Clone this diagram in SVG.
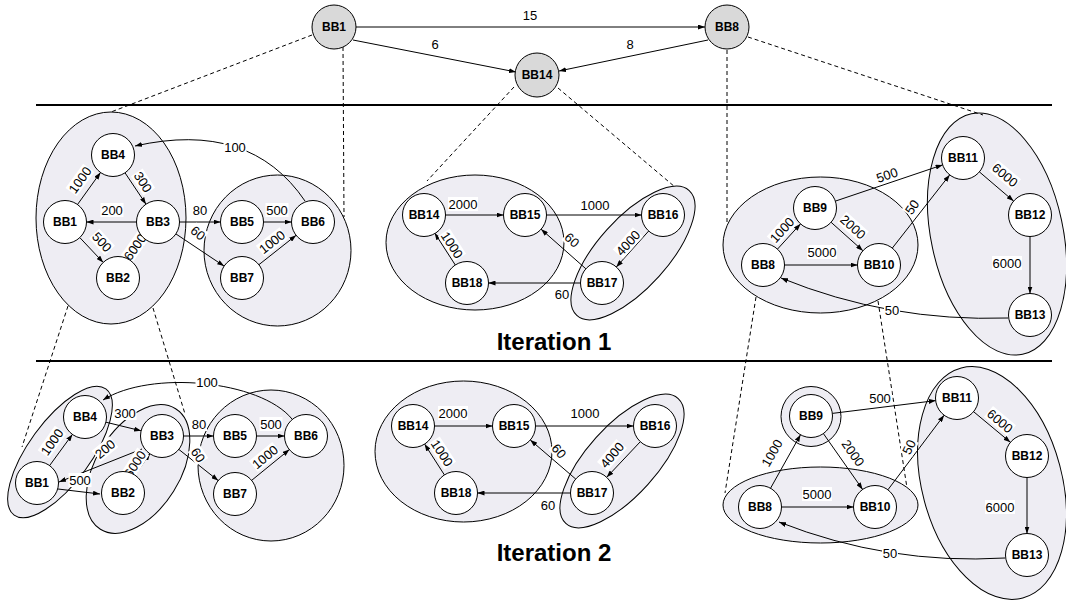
<svg xmlns="http://www.w3.org/2000/svg" xmlns:xlink="http://www.w3.org/1999/xlink" width="1066" height="606" viewBox="0 0 1066 606">
<style>
.cf{fill:#eeedf3;stroke:none}
.cs{fill:none;stroke:#000;stroke-width:1}
.n circle{fill:#fff;stroke:#000;stroke-width:1}
.t circle{fill:#d9d9d9;stroke:#000;stroke-width:1}
.n text,.t text{font-family:'Liberation Sans',Arial,sans-serif;font-size:12px;font-weight:bold;text-anchor:middle;fill:#000}
.e{fill:none;stroke:#000;stroke-width:1;marker-end:url(#ah)}
.d{fill:none;stroke:#000;stroke-width:1;stroke-dasharray:4 3}
.sep{stroke:#000;stroke-width:2.2}
.lb rect{fill:#fff}
.lb text,.tl{font-family:'Liberation Sans',Arial,sans-serif;font-size:13px;text-anchor:middle;fill:#000}
.it{font-family:'Liberation Sans',Arial,sans-serif;font-size:24px;font-weight:bold;text-anchor:middle;fill:#000}
</style>
<defs>
<marker id="ah" markerWidth="7" markerHeight="5" refX="7" refY="2.5" orient="auto" markerUnits="userSpaceOnUse"><path d="M0,0 L7,2.5 L0,5 z" fill="#000"/></marker>
<ellipse id="E1" cx="111" cy="218" rx="75" ry="106"/>
<ellipse id="E2" cx="277.5" cy="250.5" rx="73.5" ry="75.5"/>
<ellipse id="E3" cx="475" cy="242.5" rx="89" ry="67.5"/>
<ellipse id="E4" cx="0" cy="0" rx="84" ry="35" transform="translate(633 253) rotate(-48)"/>
<ellipse id="E5" cx="820.5" cy="245" rx="97.5" ry="68"/>
<ellipse id="E6" cx="0" cy="0" rx="66" ry="123" transform="translate(997 234) rotate(-12)"/>
<ellipse id="E7" cx="0" cy="0" rx="78" ry="31" transform="translate(60 452) rotate(-54)"/>
<ellipse id="E8" cx="0" cy="0" rx="71" ry="42" transform="translate(138 469) rotate(-58)"/>
<ellipse id="E9" cx="271" cy="465.5" rx="73" ry="75.5"/>
<ellipse id="E10" cx="463.5" cy="451.5" rx="88.5" ry="70.5"/>
<ellipse id="E11" cx="0" cy="0" rx="84" ry="35" transform="translate(622 461) rotate(-48)"/>
<circle id="E12" cx="811" cy="416.5" r="30"/>
<ellipse id="E13" cx="820.5" cy="505" rx="97.5" ry="38"/>
<ellipse id="E14" cx="0" cy="0" rx="70" ry="119" transform="translate(992 483) rotate(-15)"/>
</defs>
<rect width="1066" height="606" fill="#fff"/>

<g id="clusters">
<use xlink:href="#E1" class="cf"/><use xlink:href="#E2" class="cf"/><use xlink:href="#E3" class="cf"/><use xlink:href="#E4" class="cf"/><use xlink:href="#E5" class="cf"/><use xlink:href="#E6" class="cf"/><use xlink:href="#E7" class="cf"/><use xlink:href="#E8" class="cf"/><use xlink:href="#E9" class="cf"/><use xlink:href="#E10" class="cf"/><use xlink:href="#E11" class="cf"/><use xlink:href="#E12" class="cf"/><use xlink:href="#E13" class="cf"/><use xlink:href="#E14" class="cf"/>
<use xlink:href="#E1" class="cs"/><use xlink:href="#E2" class="cs"/><use xlink:href="#E3" class="cs"/><use xlink:href="#E4" class="cs"/><use xlink:href="#E5" class="cs"/><use xlink:href="#E6" class="cs"/><use xlink:href="#E7" class="cs"/><use xlink:href="#E8" class="cs"/><use xlink:href="#E9" class="cs"/><use xlink:href="#E10" class="cs"/><use xlink:href="#E11" class="cs"/><use xlink:href="#E12" class="cs"/><use xlink:href="#E13" class="cs"/><use xlink:href="#E14" class="cs"/>
</g>

<g id="separators">
<line class="sep" x1="36" y1="105" x2="1052" y2="105"/>
<line class="sep" x1="36" y1="361" x2="1052" y2="361"/>
</g>

<g id="dashed">
<path class="d" d="M312,35 L111,112"/>
<path class="d" d="M343,47 L344,217"/>
<path class="d" d="M514,87 L427,181"/>
<path class="d" d="M558,88 L675,187"/>
<path class="d" d="M727,50 L727,222"/>
<path class="d" d="M748,37 L983,115"/>
<path class="d" d="M68,306 L22,447"/>
<path class="d" d="M153,308 L185,414"/>
<path class="d" d="M756,297 L725,493"/>
<path class="d" d="M878,301 L907,488"/>
</g>

<g id="connectors">
<!-- top -->
<path class="e" d="M356,27 L705,27"/>
<path class="e" d="M353,40 L516,72"/>
<path class="e" d="M708,40 L559,71"/>
<!-- iteration 1 left -->
<path class="e" d="M77.5,204.5 L100.5,172.5"/>
<path class="e" d="M125,172.8 L146,204.2"/>
<path class="e" d="M136.5,222 L86.5,222"/>
<path class="e" d="M79.8,237.6 L103.2,262.4"/>
<path class="e" d="M130.5,260.5 L145.5,239.5"/>
<path class="e" d="M179.5,222 L220.5,222"/>
<path class="e" d="M175.9,233.9 L224.1,266.1"/>
<path class="e" d="M263.5,222 L291.5,222"/>
<path class="e" d="M258.9,264.7 L296.1,235.3"/>
<path class="e" d="M305,201 Q250,120 135,146"/>
<!-- iteration 1 middle -->
<path class="e" d="M445.5,215 L503.5,215"/>
<path class="e" d="M546.5,215 L641.5,215"/>
<path class="e" d="M648.7,231 L616.3,267"/>
<path class="e" d="M585.9,268.8 L541.1,229.2"/>
<path class="e" d="M580.5,283 L488.5,283"/>
<path class="e" d="M455.3,265 L434.7,233"/>
<!-- iteration 1 right -->
<path class="e" d="M777.5,249.1 L800.5,223.9"/>
<path class="e" d="M831.1,222.3 L862.9,250.7"/>
<path class="e" d="M835.4,201.1 L942.6,164.9"/>
<path class="e" d="M892.3,248.1 L949.7,174.9"/>
<path class="e" d="M784.5,265 L857.5,265"/>
<path class="e" d="M979.4,171.9 L1013.6,201.1"/>
<path class="e" d="M1030,236.5 L1030,293.5"/>
<path class="e" d="M1008,318 Q889,322 781,278"/>
<!-- iteration 2 left -->
<path class="e" d="M49.6,465.6 L72.4,434.4"/>
<path class="e" d="M105.9,422.2 L141.1,430.8"/>
<path class="e" d="M142,449 L59,482"/>
<path class="e" d="M58,489 L100,494"/>
<path class="e" d="M135,475.1 L150,453.6"/>
<path class="e" d="M184,436 L213.5,436"/>
<path class="e" d="M178.8,449.4 L218.2,480.6"/>
<path class="e" d="M256.5,436 L284.5,436"/>
<path class="e" d="M251.6,480.4 L289.4,449.6"/>
<path class="e" d="M292,419 C260,380 150,370 103,400"/>
<!-- iteration 2 middle -->
<path class="e" d="M434.5,426 L492.5,426"/>
<path class="e" d="M536,426 L633.5,426"/>
<path class="e" d="M640.3,441.7 L606.7,477.3"/>
<path class="e" d="M575.7,479 L530.3,440"/>
<path class="e" d="M570.5,493 L477.5,493"/>
<path class="e" d="M444.4,474.9 L424.6,444.1"/>
<!-- iteration 2 right -->
<path class="e" d="M770.5,488.3 L800.5,434.7"/>
<path class="e" d="M823.4,433.6 L862.6,489.4"/>
<path class="e" d="M832.3,413.4 L935.7,400.6"/>
<path class="e" d="M887.9,489.8 L944.1,415.2"/>
<path class="e" d="M781.5,507 L853.5,507"/>
<path class="e" d="M973.6,411.7 L1010.4,442.3"/>
<path class="e" d="M1027,477.5 L1027,533.5"/>
<path class="e" d="M1005,558 Q888,565 779,522"/>
</g>

<g id="edge-labels">
<text class="tl" x="530" y="19.5">15</text>
<text class="tl" x="435" y="48.5">6</text>
<text class="tl" x="630" y="48.5">8</text>

<g class="lb" transform="translate(80 180) rotate(-54)"><rect x="-15" y="-7" width="30" height="14"/><text y="4.6">1000</text></g>
<g class="lb" transform="translate(143 182) rotate(57)"><rect x="-11.5" y="-7" width="23" height="14"/><text y="4.6">300</text></g>
<g class="lb" transform="translate(112 210)"><rect x="-11.5" y="-7" width="23" height="14"/><text y="4.6">200</text></g>
<g class="lb" transform="translate(102 242) rotate(47)"><rect x="-11.5" y="-7" width="23" height="14"/><text y="4.6">500</text></g>
<g class="lb" transform="translate(135 247) rotate(-55)"><rect x="-15" y="-7" width="30" height="14"/><text y="4.6">6000</text></g>
<g class="lb" transform="translate(200 210)"><rect x="-8" y="-7" width="16" height="14"/><text y="4.6">80</text></g>
<g class="lb" transform="translate(198 233) rotate(40)"><rect x="-8" y="-7" width="16" height="14"/><text y="4.6">60</text></g>
<g class="lb" transform="translate(277 210)"><rect x="-11.5" y="-7" width="23" height="14"/><text y="4.6">500</text></g>
<g class="lb" transform="translate(272 242) rotate(-38)"><rect x="-15" y="-7" width="30" height="14"/><text y="4.6">1000</text></g>
<g class="lb" transform="translate(235 147)"><rect x="-11.5" y="-7" width="23" height="14"/><text y="4.6">100</text></g>

<g class="lb" transform="translate(463 204)"><rect x="-15" y="-7" width="30" height="14"/><text y="4.6">2000</text></g>
<g class="lb" transform="translate(595 205)"><rect x="-15" y="-7" width="30" height="14"/><text y="4.6">1000</text></g>
<g class="lb" transform="translate(628 243) rotate(-48)"><rect x="-15" y="-7" width="30" height="14"/><text y="4.6">4000</text></g>
<g class="lb" transform="translate(572 240) rotate(42)"><rect x="-8" y="-7" width="16" height="14"/><text y="4.6">60</text></g>
<g class="lb" transform="translate(562 294)"><rect x="-8" y="-7" width="16" height="14"/><text y="4.6">60</text></g>
<g class="lb" transform="translate(452 245) rotate(57)"><rect x="-15" y="-7" width="30" height="14"/><text y="4.6">1000</text></g>

<g class="lb" transform="translate(782 230) rotate(-48)"><rect x="-15" y="-7" width="30" height="14"/><text y="4.6">1000</text></g>
<g class="lb" transform="translate(853 227) rotate(42)"><rect x="-15" y="-7" width="30" height="14"/><text y="4.6">2000</text></g>
<g class="lb" transform="translate(887 175) rotate(-19)"><rect x="-11.5" y="-7" width="23" height="14"/><text y="4.6">500</text></g>
<g class="lb" transform="translate(912 207) rotate(-55)"><rect x="-8" y="-7" width="16" height="14"/><text y="4.6">50</text></g>
<g class="lb" transform="translate(822 252)"><rect x="-15" y="-7" width="30" height="14"/><text y="4.6">5000</text></g>
<g class="lb" transform="translate(1005 175) rotate(40)"><rect x="-15" y="-7" width="30" height="14"/><text y="4.6">6000</text></g>
<g class="lb" transform="translate(1007 263)"><rect x="-15" y="-7" width="30" height="14"/><text y="4.6">6000</text></g>
<g class="lb" transform="translate(892 310)"><rect x="-8" y="-7" width="16" height="14"/><text y="4.6">50</text></g>

<g class="lb" transform="translate(52 442) rotate(-55)"><rect x="-15" y="-7" width="30" height="14"/><text y="4.6">1000</text></g>
<g class="lb" transform="translate(125 413)"><rect x="-11.5" y="-7" width="23" height="14"/><text y="4.6">300</text></g>
<g class="lb" transform="translate(105 449) rotate(-40)"><rect x="-11.5" y="-7" width="23" height="14"/><text y="4.6">200</text></g>
<g class="lb" transform="translate(80 480)"><rect x="-11.5" y="-7" width="23" height="14"/><text y="4.6">500</text></g>
<g class="lb" transform="translate(135 464) rotate(-57)"><rect x="-15" y="-7" width="30" height="14"/><text y="4.6">6000</text></g>
<g class="lb" transform="translate(199 424)"><rect x="-8" y="-7" width="16" height="14"/><text y="4.6">80</text></g>
<g class="lb" transform="translate(198 455) rotate(57)"><rect x="-8" y="-7" width="16" height="14"/><text y="4.6">60</text></g>
<g class="lb" transform="translate(271 424)"><rect x="-11.5" y="-7" width="23" height="14"/><text y="4.6">500</text></g>
<g class="lb" transform="translate(265 457) rotate(-39)"><rect x="-15" y="-7" width="30" height="14"/><text y="4.6">1000</text></g>
<g class="lb" transform="translate(207 382)"><rect x="-11.5" y="-7" width="23" height="14"/><text y="4.6">100</text></g>

<g class="lb" transform="translate(453 413)"><rect x="-15" y="-7" width="30" height="14"/><text y="4.6">2000</text></g>
<g class="lb" transform="translate(585 413)"><rect x="-15" y="-7" width="30" height="14"/><text y="4.6">1000</text></g>
<g class="lb" transform="translate(612 455) rotate(-50)"><rect x="-15" y="-7" width="30" height="14"/><text y="4.6">4000</text></g>
<g class="lb" transform="translate(559 451) rotate(50)"><rect x="-8" y="-7" width="16" height="14"/><text y="4.6">60</text></g>
<g class="lb" transform="translate(548 505)"><rect x="-8" y="-7" width="16" height="14"/><text y="4.6">60</text></g>
<g class="lb" transform="translate(442 453) rotate(57)"><rect x="-15" y="-7" width="30" height="14"/><text y="4.6">1000</text></g>

<g class="lb" transform="translate(772 453) rotate(-60)"><rect x="-15" y="-7" width="30" height="14"/><text y="4.6">1000</text></g>
<g class="lb" transform="translate(853 453) rotate(55)"><rect x="-15" y="-7" width="30" height="14"/><text y="4.6">2000</text></g>
<g class="lb" transform="translate(880 398)"><rect x="-11.5" y="-7" width="23" height="14"/><text y="4.6">500</text></g>
<g class="lb" transform="translate(909 447) rotate(-65)"><rect x="-8" y="-7" width="16" height="14"/><text y="4.6">50</text></g>
<g class="lb" transform="translate(817 494)"><rect x="-15" y="-7" width="30" height="14"/><text y="4.6">5000</text></g>
<g class="lb" transform="translate(1000 421) rotate(40)"><rect x="-15" y="-7" width="30" height="14"/><text y="4.6">6000</text></g>
<g class="lb" transform="translate(1000 507)"><rect x="-15" y="-7" width="30" height="14"/><text y="4.6">6000</text></g>
<g class="lb" transform="translate(890 553)"><rect x="-8" y="-7" width="16" height="14"/><text y="4.6">50</text></g>
</g>

<g id="top-bb1" class="t"><circle cx="334" cy="27" r="22"/><text x="334" y="31.3">BB1</text></g>
<g id="top-bb8" class="t"><circle cx="727" cy="27" r="22"/><text x="727" y="31.3">BB8</text></g>
<g id="top-bb14" class="t"><circle cx="537" cy="75" r="22"/><text x="537" y="79.3">BB14</text></g>

<g id="i1-bb4" class="n"><circle cx="113" cy="155" r="21.5"/><text x="113" y="159.3">BB4</text></g>
<g id="i1-bb1" class="n"><circle cx="65" cy="222" r="21.5"/><text x="65" y="226.3">BB1</text></g>
<g id="i1-bb3" class="n"><circle cx="158" cy="222" r="21.5"/><text x="158" y="226.3">BB3</text></g>
<g id="i1-bb2" class="n"><circle cx="118" cy="278" r="21.5"/><text x="118" y="282.3">BB2</text></g>
<g id="i1-bb5" class="n"><circle cx="242" cy="222" r="21.5"/><text x="242" y="226.3">BB5</text></g>
<g id="i1-bb6" class="n"><circle cx="313" cy="222" r="21.5"/><text x="313" y="226.3">BB6</text></g>
<g id="i1-bb7" class="n"><circle cx="242" cy="278" r="21.5"/><text x="242" y="282.3">BB7</text></g>

<g id="i1-bb14" class="n"><circle cx="424" cy="215" r="21.5"/><text x="424" y="219.3">BB14</text></g>
<g id="i1-bb15" class="n"><circle cx="525" cy="215" r="21.5"/><text x="525" y="219.3">BB15</text></g>
<g id="i1-bb16" class="n"><circle cx="663" cy="215" r="21.5"/><text x="663" y="219.3">BB16</text></g>
<g id="i1-bb18" class="n"><circle cx="467" cy="283" r="21.5"/><text x="467" y="287.3">BB18</text></g>
<g id="i1-bb17" class="n"><circle cx="602" cy="283" r="21.5"/><text x="602" y="287.3">BB17</text></g>

<g id="i1-bb11" class="n"><circle cx="963" cy="158" r="21.5"/><text x="963" y="162.3">BB11</text></g>
<g id="i1-bb9" class="n"><circle cx="815" cy="208" r="21.5"/><text x="815" y="212.3">BB9</text></g>
<g id="i1-bb12" class="n"><circle cx="1030" cy="215" r="21.5"/><text x="1030" y="219.3">BB12</text></g>
<g id="i1-bb8" class="n"><circle cx="763" cy="265" r="21.5"/><text x="763" y="269.3">BB8</text></g>
<g id="i1-bb10" class="n"><circle cx="879" cy="265" r="21.5"/><text x="879" y="269.3">BB10</text></g>
<g id="i1-bb13" class="n"><circle cx="1030" cy="315" r="21.5"/><text x="1030" y="319.3">BB13</text></g>

<g id="i2-bb4" class="n"><circle cx="85" cy="417" r="21.5"/><text x="85" y="421.3">BB4</text></g>
<g id="i2-bb1" class="n"><circle cx="37" cy="483" r="21.5"/><text x="37" y="487.3">BB1</text></g>
<g id="i2-bb3" class="n"><circle cx="162" cy="436" r="21.5"/><text x="162" y="440.3">BB3</text></g>
<g id="i2-bb2" class="n"><circle cx="123" cy="493" r="21.5"/><text x="123" y="497.3">BB2</text></g>
<g id="i2-bb5" class="n"><circle cx="235" cy="436" r="21.5"/><text x="235" y="440.3">BB5</text></g>
<g id="i2-bb6" class="n"><circle cx="306" cy="436" r="21.5"/><text x="306" y="440.3">BB6</text></g>
<g id="i2-bb7" class="n"><circle cx="235" cy="494" r="21.5"/><text x="235" y="498.3">BB7</text></g>

<g id="i2-bb14" class="n"><circle cx="413" cy="426" r="21.5"/><text x="413" y="430.3">BB14</text></g>
<g id="i2-bb15" class="n"><circle cx="514" cy="426" r="21.5"/><text x="514" y="430.3">BB15</text></g>
<g id="i2-bb16" class="n"><circle cx="655" cy="426" r="21.5"/><text x="655" y="430.3">BB16</text></g>
<g id="i2-bb18" class="n"><circle cx="456" cy="493" r="21.5"/><text x="456" y="497.3">BB18</text></g>
<g id="i2-bb17" class="n"><circle cx="592" cy="493" r="21.5"/><text x="592" y="497.3">BB17</text></g>

<g id="i2-bb9" class="n"><circle cx="811" cy="416" r="21.5"/><text x="811" y="420.3">BB9</text></g>
<g id="i2-bb11" class="n"><circle cx="957" cy="398" r="21.5"/><text x="957" y="402.3">BB11</text></g>
<g id="i2-bb12" class="n"><circle cx="1027" cy="456" r="21.5"/><text x="1027" y="460.3">BB12</text></g>
<g id="i2-bb8" class="n"><circle cx="760" cy="507" r="21.5"/><text x="760" y="511.3">BB8</text></g>
<g id="i2-bb10" class="n"><circle cx="875" cy="507" r="21.5"/><text x="875" y="511.3">BB10</text></g>
<g id="i2-bb13" class="n"><circle cx="1027" cy="555" r="21.5"/><text x="1027" y="559.3">BB13</text></g>

<g id="titles">
<text class="it" x="554" y="350">Iteration 1</text>
<text class="it" x="554" y="561">Iteration 2</text>
</g>
</svg>
